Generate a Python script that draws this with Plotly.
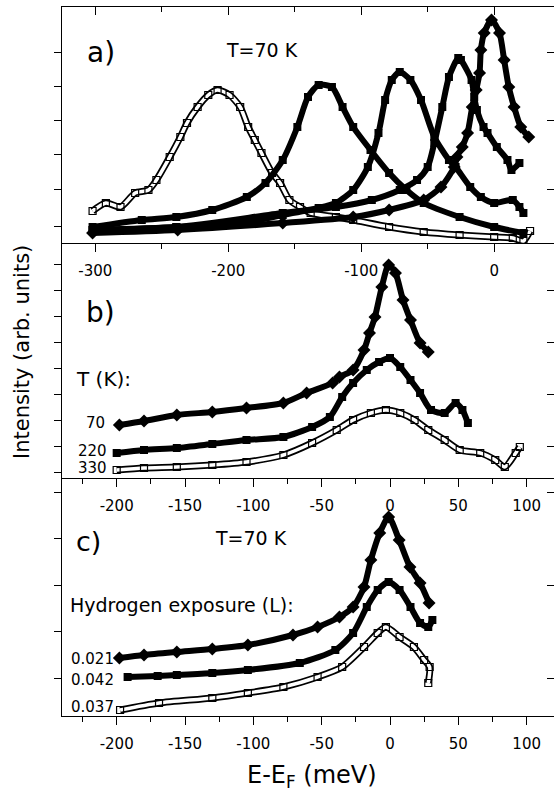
import plotly.graph_objects as go

# ---------------- data ----------------
# Panel a) T=70 K, five spectra (energy in meV, intensity in arb. units)
a1_E = [-302, -292, -281, -270, -260, -254, -244, -236, -231, -223, -215, -208, -199, -191, -185, -180, -175, -167, -161, -154, -146, -138, -119, -106, -79, -53, -26, 0, 14, 22, 27]
a1_I = [32, 40, 36, 50, 53, 63, 86, 106, 120, 136, 148, 153, 148, 136, 116, 103, 90, 70, 60, 43, 36, 30, 26, 23, 16, 11, 8, 6, 5, 2, 12]

a2_E = [-302, -265, -239, -212, -186, -172, -159, -148, -140, -132, -122, -114, -106, -93, -79, -66, -53, -26, 0, 22]
a2_I = [16, 23, 26, 33, 46, 60, 83, 116, 146, 158, 156, 136, 116, 93, 70, 53, 40, 26, 16, 10]

a3_E = [-302, -239, -186, -159, -132, -119, -106, -95, -87, -82, -77, -71, -63, -55, -45, -34, -29, -18, -10, 0, 14, 19, 22]
a3_I = [13, 16, 21, 28, 35, 40, 53, 76, 110, 143, 163, 171, 163, 143, 106, 83, 76, 56, 46, 40, 43, 36, 30]

a4_E = [-302, -239, -159, -119, -92, -71, -58, -50, -45, -39, -34, -27, -25, -17, -15, -13, -8, -5, 2, 10, 13, 19]
a4_I = [13, 16, 30, 36, 43, 53, 63, 76, 100, 136, 166, 185, 183, 163, 146, 133, 116, 110, 96, 83, 73, 80]

a5_E = [-302, -238, -159, -106, -79, -53, -40, -30, -28, -24, -20, -16.5, -13.5, -11, -10, -7.5, -2, 4, 7.5, 11, 15, 20, 26]
a5_I = [10, 13, 20, 26, 33, 43, 56, 76, 86, 96, 110, 136, 153, 170, 193, 210, 223, 210, 183, 156, 136, 116, 106]

# Panel b) temperature series T (K)
b70_E = [-198, -180, -156, -130, -105, -78, -61, -42, -37, -27, -19, -15, -11, -6, -1, 4, 9.5, 15, 22, 28]
b70_I = [53, 57, 63, 66, 70, 75, 85, 95, 101, 108, 128, 145, 161, 191, 213, 205, 178, 158, 135, 126]

b220_E = [-200, -180, -156, -130, -105, -78, -57, -44, -35, -27, -17, -8, 0, 7.5, 15, 22, 30, 40, 48, 53, 57]
b220_I = [25, 28, 30, 34, 38, 41, 51, 61, 81, 95, 108, 116, 120, 111, 98, 85, 68, 65, 75, 68, 55]

b330_E = [-200, -180, -156, -130, -105, -78, -57, -39, -27, -14, -3, 7.5, 18, 28, 40, 51, 66, 77, 84, 92, 95]
b330_I = [8, 10, 11, 13, 16, 23, 35, 48, 58, 65, 68, 65, 58, 48, 38, 28, 25, 18, 11, 25, 31]

# Panel c) hydrogen exposure (L)
c021_E = [-198, -180, -156, -130, -104, -71, -53, -37, -27, -19, -14, -7.5, -1, 6.7, 14.6, 22, 28.6]
c021_I = [58, 61, 64, 67, 71, 81, 89, 99, 109, 129, 156, 183, 199, 176, 149, 133, 113]

c042_E = [-192, -170, -156, -130, -104, -66, -40, -27, -17, -9, -1, 7, 15, 22, 28, 31]
c042_I = [39, 40, 41, 43, 46, 53, 66, 83, 109, 126, 134, 126, 109, 93, 89, 96]

c037_E = [-197.5, -169, -130, -104, -78, -53, -35, -19, -9, -3, 7, 17.5, 25, 29, 28]
c037_I = [6, 13, 18, 23, 29, 39, 49, 69, 83, 89, 79, 69, 56, 49, 33]

# tick labels
a_ticks = [-300, -200, -100, 0]
a_ticktext = ["-300", "-200", "-100", "0"]
bc_ticks = [-200, -150, -100, -50, 0, 50, 100]
bc_ticktext = ["-200", "-150", "-100", "-50", "0", "50", "100"]
b_labels = ["70", "220", "330"]
c_labels = ["0.021", "0.042", "0.037"]

# ---------------- layout geometry ----------------
W, H = 554, 792
ML, MR, MT, MB = 62, 0, 7, 76
PW = W - ML - MR
PH = H - MT - MB
def fy(py):
    return (H - MB - py) / PH
def fx(px):
    return (px - ML) / PW

dom_a = [fy(243), 1.0]
dom_b = [fy(478), fy(243)]
dom_c = [0.0, fy(478)]

FONT = "DejaVu Sans"
BLACK = "black"

fig = go.Figure()

def filled(E, I, xa, ya, sym="square", size=8):
    fig.add_trace(go.Scatter(x=E, y=I, xaxis=xa, yaxis=ya, mode="lines+markers",
                             line=dict(color=BLACK, width=6, shape="spline", smoothing=0.7),
                             marker=dict(symbol=sym, size=size, color=BLACK),
                             showlegend=False, hoverinfo="skip"))

def hollow(E, I, xa, ya):
    fig.add_trace(go.Scatter(x=E, y=I, xaxis=xa, yaxis=ya, mode="lines",
                             line=dict(color=BLACK, width=7, shape="spline", smoothing=0.7),
                             showlegend=False, hoverinfo="skip"))
    fig.add_trace(go.Scatter(x=E, y=I, xaxis=xa, yaxis=ya, mode="lines+markers",
                             line=dict(color="white", width=3.5, shape="spline", smoothing=0.7),
                             marker=dict(symbol="square-open", size=7, color=BLACK, line=dict(width=1.2)),
                             showlegend=False, hoverinfo="skip"))

# panel a
hollow(a1_E, a1_I, "x", "y")
filled(a2_E, a2_I, "x", "y")
filled(a3_E, a3_I, "x", "y")
filled(a4_E, a4_I, "x", "y")
filled(a5_E, a5_I, "x", "y", sym="diamond", size=10)
# panel b
hollow(b330_E, b330_I, "x2", "y2")
filled(b220_E, b220_I, "x2", "y2")
filled(b70_E, b70_I, "x2", "y2", sym="diamond", size=10)
# panel c
hollow(c037_E, c037_I, "x3", "y3")
filled(c042_E, c042_I, "x3", "y3")
filled(c021_E, c021_I, "x3", "y3", sym="diamond", size=10)

# dummy traces to register overlay axes
fig.add_trace(go.Scatter(x=[None], y=[None], xaxis="x4", yaxis="y", showlegend=False, hoverinfo="skip"))
fig.add_trace(go.Scatter(x=[None], y=[None], xaxis="x", yaxis="y4", showlegend=False, hoverinfo="skip"))
fig.add_trace(go.Scatter(x=[None], y=[None], xaxis="x2", yaxis="y5", showlegend=False, hoverinfo="skip"))
fig.add_trace(go.Scatter(x=[None], y=[None], xaxis="x3", yaxis="y6", showlegend=False, hoverinfo="skip"))

tickfont = dict(family=FONT, size=15, color=BLACK)
common_x = dict(showline=True, linecolor=BLACK, linewidth=1.3, ticks="outside", ticklen=8,
                tickwidth=1.3, tickcolor=BLACK, showgrid=False, zeroline=False,
                tickfont=tickfont, ticklabelstandoff=6, fixedrange=True)
common_y = dict(showline=True, linecolor=BLACK, linewidth=1.3, ticks="outside", ticklen=7,
                tickwidth=1.3, tickcolor=BLACK, showgrid=False, zeroline=False,
                showticklabels=False, fixedrange=True)
right_y = dict(showline=False, ticks="inside", ticklen=7, tickwidth=1.3, tickcolor=BLACK,
               showgrid=False, zeroline=False, showticklabels=False, side="right", fixedrange=True)

fig.update_layout(
    width=W, height=H, margin=dict(l=ML, r=MR, t=MT, b=MB),
    paper_bgcolor="white", plot_bgcolor="white",
    xaxis=dict(common_x, anchor="y", domain=[0, 1], range=[-325, 45],
               tickmode="array", tickvals=a_ticks, ticktext=a_ticktext,
               minor=dict(tickmode="array", tickvals=[-250, -150, -50], ticks="outside", ticklen=5,
                          tickwidth=1.3, tickcolor=BLACK, showgrid=False)),
    xaxis4=dict(overlaying="x", side="top", anchor="y", range=[-325, 45], showline=True,
                linecolor=BLACK, linewidth=1.3, ticks="inside", ticklen=8, tickwidth=1.3,
                tickcolor=BLACK, tickmode="array", tickvals=a_ticks, showticklabels=False,
                showgrid=False, zeroline=False, fixedrange=True,
                minor=dict(tickmode="array", tickvals=[-250, -150, -50], ticks="inside", ticklen=5,
                           tickwidth=1.3, tickcolor=BLACK, showgrid=False)),
    xaxis2=dict(common_x, anchor="y2", domain=[0, 1], range=[-240, 120],
                tickmode="array", tickvals=bc_ticks, ticktext=bc_ticktext,
                minor=dict(tickmode="array", tickvals=[-225, -175, -125, -75, -25, 25, 75],
                           ticks="outside", ticklen=5, tickwidth=1.3, tickcolor=BLACK, showgrid=False)),
    xaxis3=dict(common_x, anchor="y3", domain=[0, 1], range=[-240, 120],
                tickmode="array", tickvals=bc_ticks, ticktext=bc_ticktext,
                minor=dict(tickmode="array", tickvals=[-225, -175, -125, -75, -25, 25, 75],
                           ticks="outside", ticklen=5, tickwidth=1.3, tickcolor=BLACK, showgrid=False)),
    yaxis=dict(common_y, anchor="x", domain=dom_a, range=[0, 236],
               tickmode="array", tickvals=[17, 54, 89, 123, 157, 191]),
    yaxis4=dict(right_y, overlaying="y", anchor="x", range=[0, 236],
                tickmode="array", tickvals=[54, 123, 191]),
    yaxis2=dict(common_y, anchor="x2", domain=dom_b, range=[0, 235],
                tickmode="array", tickvals=[6, 32, 58, 84, 110, 136, 162, 188, 214]),
    yaxis5=dict(right_y, overlaying="y2", anchor="x2", range=[0, 235],
                tickmode="array", tickvals=[32, 84, 136, 188]),
    yaxis3=dict(common_y, anchor="x3", domain=dom_c, range=[0, 238],
                tickmode="array", tickvals=[38, 85, 131, 178, 224]),
    yaxis6=dict(right_y, overlaying="y3", anchor="x3", range=[0, 238],
                tickmode="array", tickvals=[38, 131, 224]),
    showlegend=False,
)

def label(text, px, py, size, angle=0):
    fig.add_annotation(text=text, x=fx(px), y=fy(py), xref="paper", yref="paper",
                       xanchor="center", yanchor="middle", showarrow=False, textangle=angle,
                       font=dict(family=FONT, size=size, color=BLACK))

label("a)", 101, 52, 28)
label("T=70 K", 262, 50, 19)
label("b)", 100, 312, 28)
label("T (K):", 103, 379, 20)
label(b_labels[0], 95, 423, 15)
label(b_labels[1], 92, 451, 15)
label(b_labels[2], 92, 468, 15)
label("c)", 88, 541, 27)
label("T=70 K", 251, 538, 19)
label("Hydrogen exposure (L):", 182, 605, 19)
label(c_labels[0], 92, 659, 15)
label(c_labels[1], 92, 680, 15)
label(c_labels[2], 92, 707, 15)
label("Intensity (arb. units)", 22, 352, 21, angle=-90)
label("E-E<sub>F</sub> (meV)", 312, 776, 24)

fig.write_html("out.html")
